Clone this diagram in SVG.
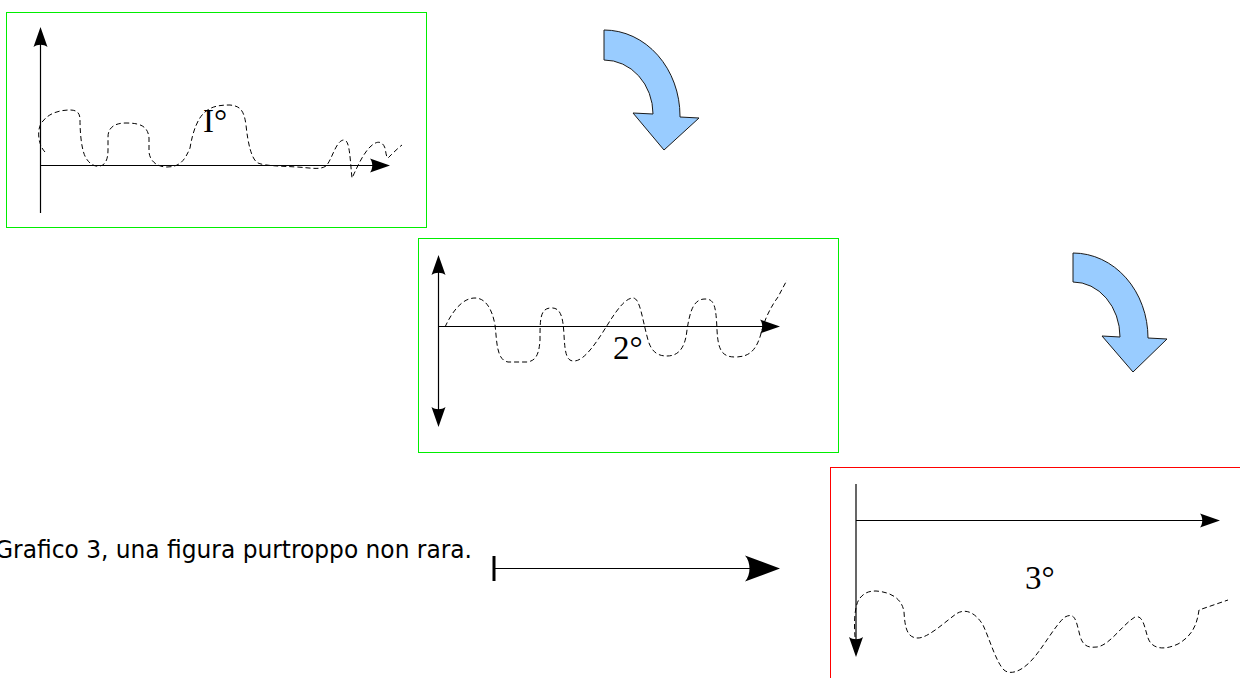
<svg xmlns="http://www.w3.org/2000/svg" xmlns:xlink="http://www.w3.org/1999/xlink" width="1240" height="678" viewBox="0 0 1240 678">
  <style>
    .frame-ok { fill: none; stroke: #00ee00; stroke-width: 1; }
    .frame-bad { fill: none; stroke: #ff0000; stroke-width: 1; }
    .axis { fill: none; stroke: #000; stroke-width: 1.2; }
    .trace { fill: none; stroke: #000; stroke-width: 1; stroke-dasharray: 5 3; }
    .head { fill: #000; stroke: none; }
    .label { font-family: "Liberation Serif", "Times New Roman", serif; font-size: 33px; fill: #000; }
    .caption { font-family: "DejaVu Sans", Verdana, sans-serif; font-size: 24px; fill: #000; }
    .turn { fill: #99ccff; stroke: #1a1a1a; stroke-width: 1; stroke-linejoin: miter; }
  </style>
  <defs>
    <!-- small arrowhead, tip at origin, pointing +x -->
    <path id="tip" class="head" d="M0,0 L-20,-7 C-17,-3 -17,3 -20,7 Z"/>
    <!-- large arrowhead for the pointer -->
    <path id="bigtip" class="head" d="M0,0 L-35,-13 C-29,-6 -29,6 -35,13 Z"/>
  </defs>

  <rect width="1240" height="678" fill="#fff"/>

  <!-- first chart -->
  <g id="chart1">
    <rect class="frame-ok" x="6.5" y="12.5" width="420" height="215"/>
    <line class="axis" x1="40.5" y1="213" x2="40.5" y2="40"/>
    <line class="axis" x1="40.5" y1="165.5" x2="380" y2="165.5"/>
    <use xlink:href="#tip" transform="translate(40.5,27) rotate(-90)"/>
    <use xlink:href="#tip" transform="translate(390,165.5)"/>
    <path class="trace" d="M45,152 C38,145 36,128 43,121 C50,112 62,110 70,110 C78,110 80,114 80,120 C80,130 81,150 86,158 C90,165 96,167 100,166 C106,165 108,158 108,150 L108,137 C108,128 114,123 126,123 C140,123 148,126 149,138 L149,152 C150,162 158,167 167,167 C180,167 185,160 190,148 C193,130 198,118 205,112 C212,106 220,105 230,105 C240,106 244,110 246,125 C248,145 252,160 258,163 C265,166 280,166 297,167 C312,168 320,170 326,166 C332,160 336,140 344,140 C350,140 350,160 352,178 C356,170 362,155 370,147 C376,141 382,140 385,148 C386,152 386,157 388,158 C392,154 398,148 402,145"/>
    <text class="label" x="203" y="132">I°</text>
  </g>

  <!-- second chart -->
  <g id="chart2">
    <rect class="frame-ok" x="418.5" y="238.5" width="420" height="214"/>
    <line class="axis" x1="438.5" y1="268" x2="438.5" y2="414"/>
    <line class="axis" x1="438.5" y1="326.5" x2="770" y2="326.5"/>
    <use xlink:href="#tip" transform="translate(438.5,255) rotate(-90)"/>
    <use xlink:href="#tip" transform="translate(438.5,427) rotate(90)"/>
    <use xlink:href="#tip" transform="translate(780,326.5)"/>
    <path class="trace" d="M445,327 C452,312 462,298 475,298 C485,298 492,308 495,325 C497,340 496,360 508,362 L527,362 C535,361 539,356 540,340 C540,320 540,309 550,308 C560,307 563,315 564,335 C565,355 567,361 574,361 C585,361 598,340 608,324 C618,308 626,298 633,298 C640,298 642,318 648,340 C652,354 660,356 667,356 C677,356 685,350 687,330 C690,310 694,299 705,299 C714,299 716,305 717,330 C718,350 722,357 735,357 C750,357 757,350 762,330 C765,318 772,305 778,297 L787,280"/>
    <text class="label" x="613" y="359">2°</text>
  </g>

  <!-- third chart -->
  <g id="chart3">
    <rect class="frame-bad" x="830.5" y="467.5" width="430" height="230"/>
    <line class="axis" x1="856" y1="484" x2="856" y2="645"/>
    <line class="axis" x1="856" y1="520.5" x2="1208" y2="520.5"/>
    <use xlink:href="#tip" transform="translate(856,657) rotate(90)"/>
    <use xlink:href="#tip" transform="translate(1220,520.5)"/>
    <path class="trace" d="M855,637 C854,625 854,605 860,598 C865,592 870,591 876,591 C890,592 902,598 904,612 C905,630 908,638 918,638 C928,638 945,622 956,614 C965,608 975,612 983,625 C990,640 996,662 1004,670 C1010,675 1020,672 1030,662 C1042,650 1055,625 1065,617 C1075,612 1076,620 1080,636 C1083,646 1088,648 1097,647 C1110,645 1122,625 1135,617 C1145,614 1145,635 1150,642 C1155,649 1165,650 1178,644 C1192,636 1197,625 1199,610 L1228,600"/>
    <text class="label" x="1025" y="589">3°</text>
  </g>

  <!-- caption, deliberately starting just past the left edge -->
  <g id="caption">
    <text class="caption" x="-5" y="558" textLength="477" lengthAdjust="spacingAndGlyphs">Grafico 3, una figura purtroppo non rara.</text>
  </g>

  <!-- connectors -->
  <g id="connectors">
    <path id="turn1" class="turn" d="M604,30 A76,86 0 0 1 680,116 L680,117 L699,118 L664,150 L633,113 L653,114 A49,54 0 0 0 604,60 Z"/>
    <path id="turn2" class="turn" d="M1073,253 A75,85 0 0 1 1148,338 L1167,339 L1133,372 L1102,336 L1120,337 A47,55 0 0 0 1073,282 Z"/>
    <g id="pointer">
      <line x1="494" y1="556" x2="494" y2="581" stroke="#000" stroke-width="3"/>
      <line x1="494" y1="568.5" x2="750" y2="568.5" stroke="#000" stroke-width="1.2"/>
      <use xlink:href="#bigtip" transform="translate(780,568.5)"/>
    </g>
  </g>
</svg>
